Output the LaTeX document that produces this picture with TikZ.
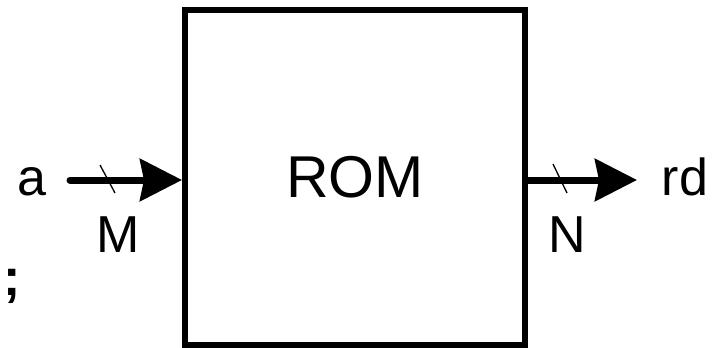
\documentclass[tikz,border=0pt]{standalone}
\usepackage{fontspec}
\setmainfont{Liberation Sans}
\usetikzlibrary{arrows.meta}
\begin{document}
\begin{tikzpicture}[x=1pt,y=-1pt,
  lbl/.style={anchor=base,inner sep=0pt,font=\fontsize{52}{60}\selectfont},
  bus/.style={line width=7pt,-{Stealth[inset=4pt,length=42pt,width=42pt]}},
  tick/.style={line width=1.3pt},
  rombox/.style={draw,line width=6pt,minimum width=340pt,minimum height=335pt,inner sep=0pt,font=\fontsize{59}{66}\selectfont}]
\useasboundingbox (0,0) rectangle (723,348);
\node[rombox] (rom) at (355,177.5) {ROM};
\coordinate (ain) at (70,180);
\coordinate (rdout) at (637,180);
\draw[bus,line cap=round] (ain) -- (rom.west |- ain);
\draw[bus] (rom.east |- rdout) -- (rdout);
\coordinate (t1a) at (100,165); \coordinate (t1b) at (115,193);
\coordinate (t2a) at (553,164); \coordinate (t2b) at (567,193);
\draw[tick] (t1a) -- (t1b);
\draw[tick] (t2a) -- (t2b);
\node[lbl] (la) at (32,195) {a};
\node[lbl] (lm) at (118,252) {M};
\node[lbl] (ln) at (567,252) {N};
\node[lbl] (lrd) at (685,195) {rd};
\node[lbl,font=\fontsize{52}{60}\selectfont\bfseries] (semi) at (12,295) {;};
\end{tikzpicture}
\end{document}
